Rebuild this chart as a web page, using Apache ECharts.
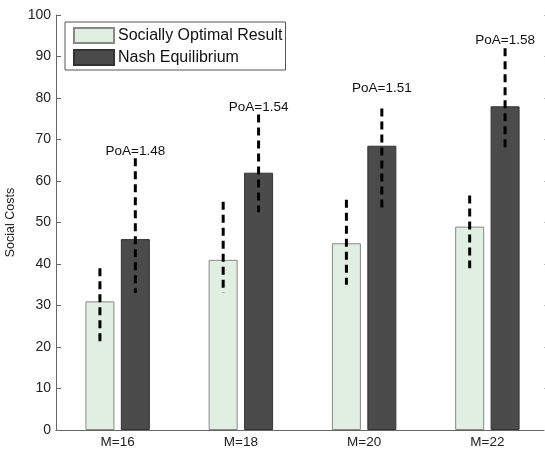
<!DOCTYPE html>
<html><head><meta charset="utf-8">
<script src="https://cdn.jsdelivr.net/npm/echarts@6/dist/echarts.min.js"></script>
<style>html,body{margin:0;padding:0;background:#fff}#c{width:545px;height:450px}</style>
</head><body><div id="c"></div>
<script>
const categories = ['M=16', 'M=18', 'M=20', 'M=22'];
const optimalValues = [31, 41, 45, 49];
const nashValues = [46, 62, 68.5, 78];
const optimalLow = [21, 33, 35, 39];
const optimalHigh = [39, 55, 55.5, 56.5];
const nashLow = [33, 52.5, 52.5, 67];
const nashHigh = [65.5, 76, 77.5, 92];
const poaLabels = ['PoA=1.48', 'PoA=1.54', 'PoA=1.51', 'PoA=1.58'];
const poaLabelY = [67.2, 77.8, 82.4, 94];
const yTicks = [0, 10, 20, 30, 40, 50, 60, 70, 80, 90, 100];

const FONT = 'Liberation Sans, Arial, sans-serif';
const BAR_W = 29, GAP = 6.4;
const OFF = (BAR_W + GAP) / 2;

function errRender(offset, low, high) {
  return function (params, api) {
    const i = api.value(0);
    const p1 = api.coord([i, high[i]]);
    const p2 = api.coord([i, low[i]]);
    return {
      type: 'line',
      shape: { x1: p1[0] + offset, y1: p1[1], x2: p2[0] + offset, y2: p2[1] },
      style: { stroke: '#000', lineWidth: 3, lineDash: [8, 5] }
    };
  };
}

const chart = echarts.init(document.getElementById('c'), null, { renderer: 'canvas' });
chart.setOption({
  animation: false,
  backgroundColor: '#fff',
  textStyle: { fontFamily: FONT },
  grid: { left: 56, right: -4, top: 15, bottom: 20, containLabel: false, outerBoundsMode: 'none' },
  legend: {
    orient: 'vertical', left: 65, top: 22,
    itemWidth: 40, itemHeight: 15, itemGap: 5,
    padding: [5, 3, 4, 8],
    borderColor: '#555', borderWidth: 1, backgroundColor: '#fff',
    icon: 'rect',
    textStyle: { fontSize: 16, lineHeight: 15, color: '#111', fontFamily: FONT, padding: [0, 0, 0, -1] },
    data: ['Socially Optimal Result', 'Nash Equilibrium']
  },
  xAxis: [{
    type: 'category', data: categories, boundaryGap: true,
    axisLine: { lineStyle: { color: '#666', width: 1 } },
    axisTick: { inside: true, alignWithLabel: true, length: 5, lineStyle: { color: '#666' } },
    axisLabel: { fontSize: 13.5, color: '#222', margin: 5, fontFamily: FONT }
  }, {
    type: 'category', data: categories, position: 'top', boundaryGap: true,
    axisLine: { lineStyle: { color: '#666', width: 1 } },
    axisTick: { inside: true, alignWithLabel: true, length: 5, lineStyle: { color: '#666' } },
    axisLabel: { show: false }
  }],
  yAxis: [{
    type: 'value', min: 0, max: 100, interval: 10,
    name: 'Social Costs', nameLocation: 'middle', nameGap: 21,
    nameTextStyle: { fontSize: 12.5, color: '#222', fontFamily: FONT },
    axisLine: { show: true, lineStyle: { color: '#666', width: 1 } },
    axisTick: { show: true, inside: true, length: 5, lineStyle: { color: '#666' } },
    axisLabel: { fontSize: 14, color: '#222', margin: 5, fontFamily: FONT,
      formatter: v => yTicks.includes(v) ? String(v) : '' },
    splitLine: { show: false }
  }, {
    type: 'value', min: 0, max: 100, interval: 10, position: 'right',
    axisLine: { show: true, lineStyle: { color: '#666', width: 1 } },
    axisTick: { show: true, inside: true, length: 5, lineStyle: { color: '#bbb' } },
    axisLabel: { show: false }, splitLine: { show: false }
  }],
  series: [
    {
      name: 'Socially Optimal Result', type: 'bar', data: optimalValues,
      barWidth: BAR_W, barGap: (GAP / BAR_W * 100).toFixed(1) + '%',
      itemStyle: { color: '#e1eee2', borderColor: '#888', borderWidth: 1 }
    },
    {
      name: 'Nash Equilibrium', type: 'bar', data: nashValues,
      barWidth: BAR_W, barGap: (GAP / BAR_W * 100).toFixed(1) + '%',
      itemStyle: { color: '#4b4b4b', borderColor: '#333', borderWidth: 1 }
    },
    {
      type: 'custom', silent: true, z: 10,
      data: categories.map((c, i) => [i]),
      renderItem: errRender(-OFF, optimalLow, optimalHigh)
    },
    {
      type: 'custom', silent: true, z: 10,
      data: categories.map((c, i) => [i]),
      renderItem: errRender(OFF, nashLow, nashHigh)
    },
    {
      type: 'custom', silent: true, z: 11,
      data: categories.map((c, i) => [i]),
      renderItem: function (params, api) {
        const i = api.value(0);
        const p = api.coord([i, poaLabelY[i]]);
        return {
          type: 'text',
          style: {
            x: p[0] + OFF, y: p[1], text: poaLabels[i],
            fill: '#111', font: '13.5px ' + FONT,
            textAlign: 'center', textVerticalAlign: 'middle'
          }
        };
      }
    }
  ]
});
</script>
</body></html>
